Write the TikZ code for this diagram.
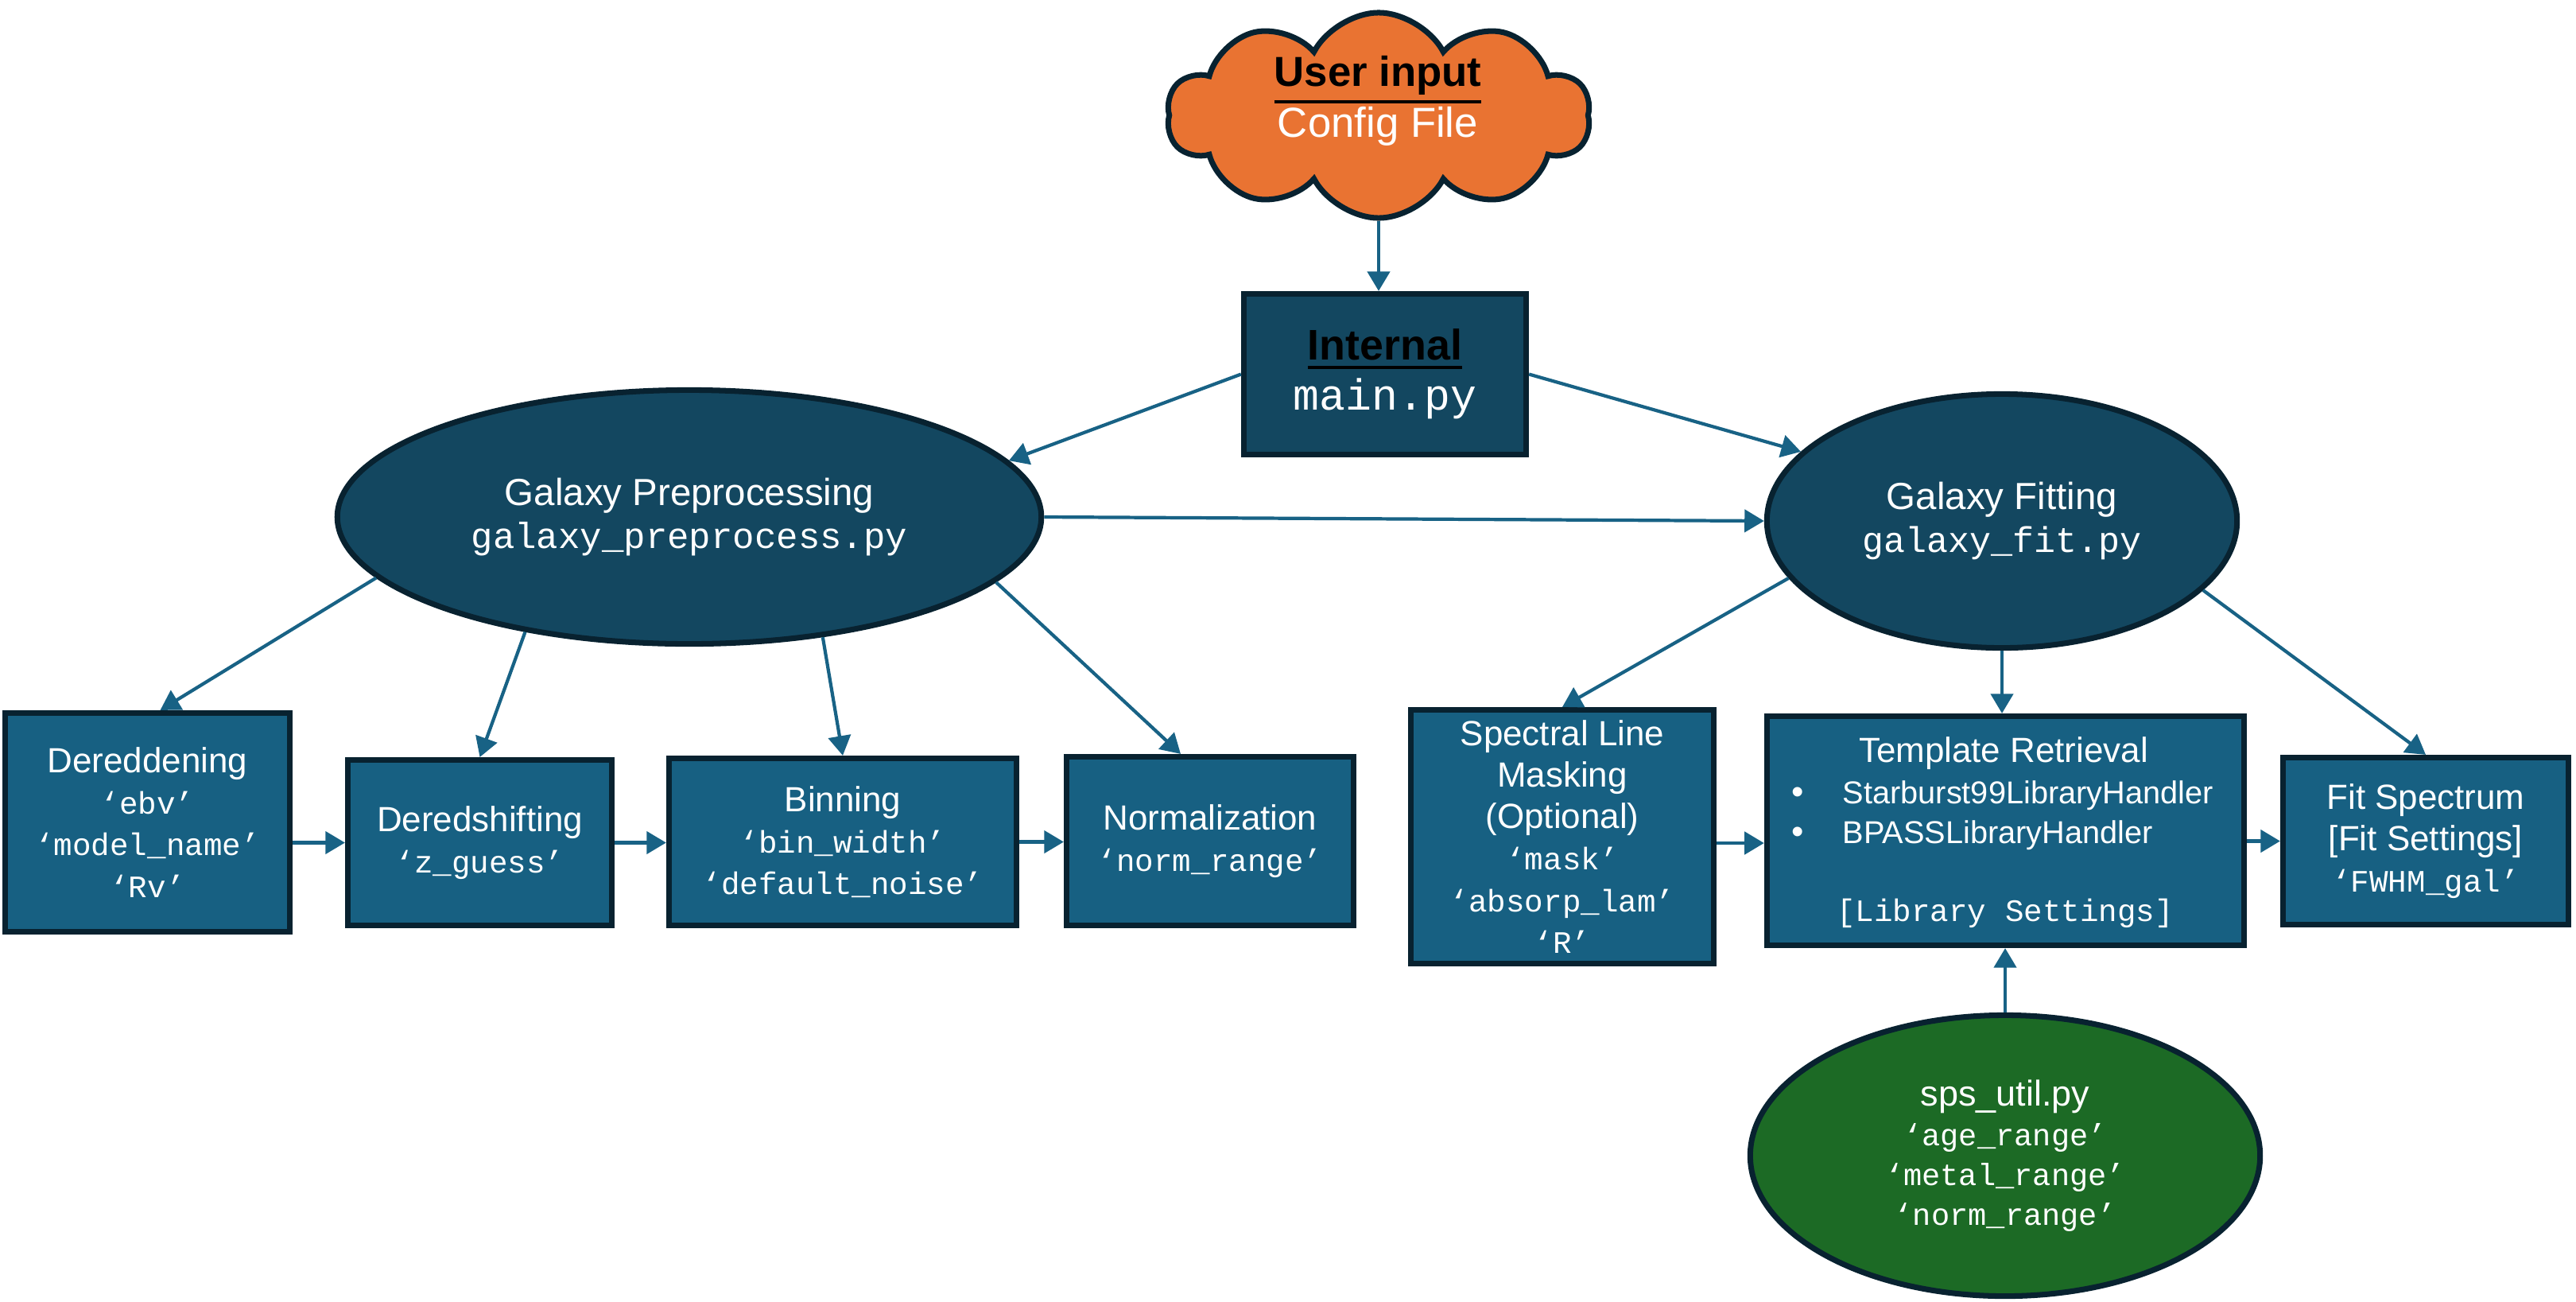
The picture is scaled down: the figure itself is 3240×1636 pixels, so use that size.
\documentclass[tikz,border=0pt]{standalone}
\usepackage{fontspec}
\setmainfont{Liberation Sans}
\setmonofont{Liberation Mono}
\usetikzlibrary{shapes.geometric,shapes.symbols,arrows.meta,calc}
\definecolor{bordc}{HTML}{082230}
\definecolor{darkc}{HTML}{134760}
\definecolor{boxc}{HTML}{176082}
\definecolor{arrc}{HTML}{186285}
\definecolor{greenc}{HTML}{1C6A25}
\definecolor{orangec}{HTML}{E97332}
\newcommand{\myul}[1]{\leavevmode\vtop{\hbox{#1}\kern1.8pt\hrule height 1.2pt}}
\newcommand{\bxmono}{\fontsize{11.15pt}{14.8pt}\selectfont\ttfamily}
\newcommand{\bxsans}{\fontsize{12.5pt}{14.8pt}\selectfont}
\begin{document}
\begin{tikzpicture}[x=0.01cm,y=-0.01cm,
  boxst/.style={draw=bordc,line width=2pt,fill=boxc,text=white,align=center,inner sep=2pt,font=\bxsans},
  ellst/.style={ellipse,draw=bordc,line width=2pt,fill=darkc,text=white,align=center,inner sep=2pt},
  lbl/.style={text=white,inner sep=0pt,font=\bxsans},
  arr/.style={draw=arrc,line width=1.2pt,-{Triangle[length=7pt,width=8pt]}}]

\useasboundingbox (0,0) rectangle (3240,1636);

% cloud
\node[cloud, cloud puffs=10, cloud puff arc=125, cloud ignores aspect, draw=bordc, line width=2pt,
      fill=orangec, minimum width=5.32cm, minimum height=2.58cm, inner sep=0pt] (cloud) at (1734,145) {};
\node[align=center, text=white, font=\fontsize{15pt}{18.4pt}\selectfont] (cloudtxt) at (1733,127)
  {{\color{black}\bfseries\myul{User input}}\\Config File};

% internal
\node[boxst, fill=darkc, minimum width=3.55cm, minimum height=2.02cm,
      font=\fontsize{15.3pt}{18pt}\selectfont] (internal) at (1742,470.5)
  {{\color{black}\bfseries\myul{Internal}}\\{\fontsize{15.6pt}{18pt}\selectfont\ttfamily main.py}};

% main ellipses
\node[ellst, minimum width=8.85cm, minimum height=3.19cm, font=\fontsize{13.5pt}{15.1pt}\selectfont] (gp) at (867,650)
  {Galaxy Preprocessing\\{\fontsize{13pt}{15.1pt}\selectfont\ttfamily galaxy\_preprocess.py}};
\node[ellst, minimum width=5.91cm, minimum height=3.19cm, font=\fontsize{13.5pt}{15.1pt}\selectfont] (gf) at (2518,655)
  {Galaxy Fitting\\{\fontsize{12.8pt}{15.1pt}\selectfont\ttfamily galaxy\_fit.py}};

% preprocessing boxes
\node[boxst, minimum width=3.58cm, minimum height=2.75cm] (dered) at (185.5,1034)
  {Dereddening\\{\bxmono ‘ebv’}\\{\bxmono ‘model\_name’}\\{\bxmono ‘Rv’}};
\node[boxst, minimum width=3.32cm, minimum height=2.08cm] (dshift) at (603.5,1059.5)
  {Deredshifting\\{\bxmono ‘z\_guess’}};
\node[boxst, minimum width=4.37cm, minimum height=2.10cm] (bin) at (1060,1058.5)
  {Binning\\{\bxmono ‘bin\_width’}\\{\bxmono ‘default\_noise’}};
\node[boxst, minimum width=3.61cm, minimum height=2.12cm] (norm) at (1522,1057.5)
  {Normalization\\{\bxmono ‘norm\_range’}};

% fitting boxes
\node[boxst, minimum width=3.81cm, minimum height=3.19cm] (spec) at (1965,1052)
  {Spectral Line\\Masking\\(Optional)\\{\bxmono ‘mask’}\\{\bxmono ‘absorp\_lam’}\\{\bxmono ‘R’}};
\node[boxst, minimum width=6.00cm, minimum height=2.88cm] (tmpl) at (2522.5,1044.5) {};
\node[lbl, anchor=base] (tmplttl) at (2520,958) {Template Retrieval};
\node[lbl, anchor=base] (bul1) at (2261,1010) {\textbullet};
\node[lbl, anchor=base west, font=\fontsize{11.3pt}{14pt}\selectfont] (sb99) at (2317,1010) {Starburst99LibraryHandler};
\node[lbl, anchor=base] (bul2) at (2261,1060) {\textbullet};
\node[lbl, anchor=base west, font=\fontsize{11.3pt}{14pt}\selectfont] (bpass) at (2317,1060) {BPASSLibraryHandler};
\node[lbl, anchor=base, font=\bxmono] (libset) at (2522,1158) {[Library Settings]};
\node[boxst, minimum width=3.59cm, minimum height=2.10cm] (fit) at (3051,1057.5)
  {Fit Spectrum\\{[Fit Settings]}\\{\bxmono ‘FWHM\_gal’}};

% sps util
\node[ellst, fill=greenc, minimum width=6.41cm, minimum height=3.53cm, font=\fontsize{12.8pt}{14.2pt}\selectfont] (sps) at (2522,1453)
  {sps\_util.py\\{\fontsize{11pt}{14.2pt}\selectfont\ttfamily ‘age\_range’}\\{\fontsize{11pt}{14.2pt}\selectfont\ttfamily ‘metal\_range’}\\{\fontsize{11pt}{14.2pt}\selectfont\ttfamily ‘norm\_range’}};

% connectors
\draw[arr] (cloud.south) -- (cloud.south |- internal.north);
\draw[arr] (internal.west) -- (gp.10.2);
\draw[arr] (internal.east) -- (gf.161.2);
\draw[arr] (gp.east) -- (gf.west);

\draw[arr] (gp.191) -- ($(dered.north)+(16,0)$);
\draw[arr] (gp.215.3) -- (dshift.north);
\draw[arr] (gp.318.4) -- (bin.north);
\draw[arr] (gp.348) -- ($(norm.north)+(-37,0)$);

\draw[arr] (dered.east |- dshift.west) -- (dshift.west);
\draw[arr] (dshift.east) -- (dshift.east -| bin.west);
\draw[arr] (bin.east) -- (bin.east -| norm.west);

\draw[arr] (gf.195.1) -- (spec.north);
\draw[arr] (gf.south) -- (gf.south |- tmpl.north);
\draw[arr] (gf.341.6) -- (fit.north);

\draw[arr] ([yshift=-0.08cm]spec.east) -- ([yshift=-0.08cm]spec.east -| tmpl.west);
\draw[arr] (tmpl.east |- fit.west) -- (fit.west);
\draw[arr] (sps.north) -- (sps.north |- tmpl.south);

\end{tikzpicture}
\end{document}
